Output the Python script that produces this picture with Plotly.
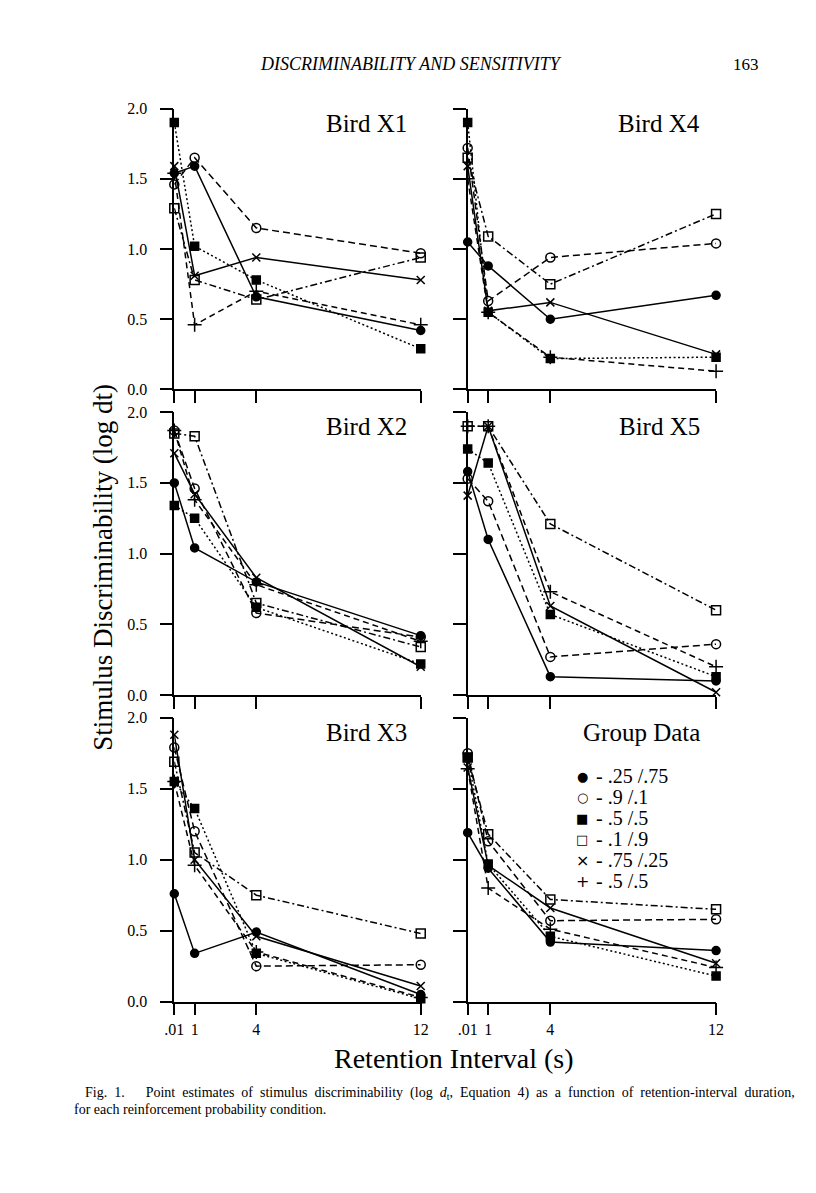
import plotly.graph_objects as go

W, H = 816, 1193

# ---------------- data ----------------
x_vals = [0.01, 1, 4, 12]
x_tick_labels = [".01", "1", "4", "12"]
y_ticks = [0.0, 0.5, 1.0, 1.5, 2.0]
y_tick_labels = ["0.0", "0.5", "1.0", "1.5", "2.0"]

conditions = [".25 /.75", ".9 /.1", ".5 /.5", ".1 /.9", ".75 /.25", ".5 /.5"]
legend_glyphs = ["●", "○", "■", "□", "×", "+"]

# series order: .25/.75 (filled circle), .9/.1 (open circle), .5/.5 (filled square),
#               .1/.9 (open square), .75/.25 (x), .5/.5 (+)
bird_x1 = [[1.54, 1.59, 0.66, 0.42], [1.46, 1.65, 1.15, 0.97], [1.90, 1.02, 0.78, 0.29],
           [1.29, 0.78, 0.64, 0.94], [1.59, 0.81, 0.94, 0.78], [1.54, 0.46, 0.70, 0.46]]
bird_x4 = [[1.05, 0.88, 0.50, 0.67], [1.72, 0.63, 0.94, 1.04], [1.90, 0.55, 0.22, 0.23],
           [1.65, 1.09, 0.75, 1.25], [1.59, 0.56, 0.62, 0.25], [1.50, 0.55, 0.23, 0.13]]
bird_x2 = [[1.50, 1.04, 0.80, 0.42], [1.87, 1.46, 0.58, 0.41], [1.34, 1.25, 0.62, 0.22],
           [1.85, 1.83, 0.65, 0.34], [1.71, 1.42, 0.83, 0.20], [1.87, 1.38, 0.78, 0.38]]
bird_x5 = [[1.58, 1.10, 0.13, 0.10], [1.53, 1.37, 0.27, 0.36], [1.74, 1.64, 0.57, 0.13],
           [1.90, 1.90, 1.21, 0.60], [1.41, 1.90, 0.63, 0.02], [1.90, 1.90, 0.73, 0.20]]
bird_x3 = [[0.76, 0.34, 0.49, 0.05], [1.79, 1.20, 0.25, 0.26], [1.55, 1.36, 0.34, 0.02],
           [1.69, 1.05, 0.75, 0.48], [1.88, 1.00, 0.46, 0.11], [1.55, 0.96, 0.35, 0.03]]
group_data = [[1.19, 0.94, 0.42, 0.36], [1.75, 1.13, 0.57, 0.58], [1.72, 0.97, 0.46, 0.18],
              [1.72, 1.18, 0.72, 0.65], [1.65, 0.96, 0.66, 0.27], [1.64, 0.80, 0.51, 0.24]]

panel_titles = ["Bird X1", "Bird X4", "Bird X2", "Bird X5", "Bird X3", "Group Data"]
panel_data = [bird_x1, bird_x4, bird_x2, bird_x5, bird_x3, group_data]

caption_line1 = ("Fig. 1.   Point estimates of stimulus discriminability (log <i>d</i><sub>t</sub>, "
                 "Equation 4) as a function of retention-interval duration,")
caption_line2 = "for each reinforcement probability condition."

# ---------------- styles ----------------
FONT = "Liberation Serif, Times New Roman, serif"
marker_symbols = ["circle", "circle-open", "square", "square-open", "x-thin-open", "cross-thin-open"]
marker_sizes = [8, 9, 8, 9, 8, 10]
dashes = ["solid", "7px,4px", "2px,2.5px", "7px,3px,2px,3px", "solid", "6px,4px"]

# panel pixel boxes (left, right) and (top, bottom)
col_px = [(168, 420), (468, 722)]
row_px = [(102, 387), (410, 697), (720, 1008)]


def px2x(p):
    return p / W


def px2y(p):
    return 1 - p / H


def justify(text):
    # widen word gaps to mimic the justified typesetting of the printed caption
    return text.replace(" ", " \u2005")


fig = go.Figure()
annotations = []

for i, (title, data) in enumerate(zip(panel_titles, panel_data)):
    r, c = divmod(i, 2)
    n = i + 1
    xa = "x" if n == 1 else f"x{n}"
    ya = "y" if n == 1 else f"y{n}"
    for k in range(6):
        fig.add_trace(go.Scatter(
            x=x_vals, y=data[k], xaxis=xa, yaxis=ya,
            mode="lines+markers", showlegend=False, cliponaxis=False,
            line=dict(color="black", width=1.5, dash=dashes[k]),
            marker=dict(symbol=marker_symbols[k], size=marker_sizes[k], color="black",
                        line=dict(color="black", width=1.5)),
        ))
    x0, x1 = col_px[c]
    y0, y1 = row_px[r]
    xkey = "xaxis" if n == 1 else f"xaxis{n}"
    ykey = "yaxis" if n == 1 else f"yaxis{n}"
    fig.update_layout(**{
        xkey: dict(domain=[px2x(x0), px2x(x1)], anchor=ya, range=[0.01, 12],
                   tickvals=x_vals, ticktext=x_tick_labels, showticklabels=(r == 2),
                   ticks="outside", ticklen=12, tickwidth=1.5, tickcolor="black",
                   showline=True, linecolor="black", linewidth=1.5, showgrid=False,
                   zeroline=False, tickfont=dict(family=FONT, size=16, color="black")),
        ykey: dict(domain=[px2y(y1), px2y(y0)], anchor=xa, range=[0, 2],
                   tickvals=y_ticks, ticktext=y_tick_labels, showticklabels=(c == 0),
                   ticks="outside", ticklen=13, tickwidth=1.5, tickcolor="black",
                   showline=True, linecolor="black", linewidth=1.5, showgrid=False,
                   zeroline=False, ticklabelstandoff=9,
                   tickfont=dict(family=FONT, size=16, color="black")),
    })
    annotations.append(dict(
        text=title, x=px2x(408 if c == 0 else 708), y=px2y(y0 + 15),
        xref="paper", yref="paper", xanchor="right", yanchor="middle",
        showarrow=False, font=dict(family=FONT, size=25, color="black")))

# legend in the Group Data panel
for k in range(6):
    yy = px2y(779 + 21.3 * k)
    annotations.append(dict(text=legend_glyphs[k], x=px2x(585), y=yy, xref="paper", yref="paper",
                            xanchor="center", yanchor="middle", showarrow=False, borderpad=0,
                            height=20,
                            font=dict(family="DejaVu Sans", size=13 if k not in (4, 5) else 16,
                                      color="black")))
    annotations.append(dict(text="- " + conditions[k], x=px2x(598), y=yy, xref="paper", yref="paper",
                            xanchor="left", yanchor="middle", showarrow=False, borderpad=0,
                            height=20,
                            font=dict(family=FONT, size=20, color="black")))

# page texts
annotations += [
    dict(text="<i>DISCRIMINABILITY AND SENSITIVITY</i>", x=px2x(410), y=px2y(57),
         xref="paper", yref="paper", xanchor="center", yanchor="middle", showarrow=False,
         font=dict(family=FONT, size=18, color="black")),
    dict(text="163", x=px2x(753), y=px2y(57), xref="paper", yref="paper",
         xanchor="center", yanchor="middle", showarrow=False,
         font=dict(family=FONT, size=17, color="black")),
    dict(text="Stimulus Discriminability (log dt)", x=px2x(95), y=px2y(567), textangle=-90,
         xref="paper", yref="paper", xanchor="center", yanchor="middle", showarrow=False,
         font=dict(family=FONT, size=27, color="black")),
    dict(text="Retention Interval (s)", x=px2x(454), y=px2y(1066), xref="paper", yref="paper",
         xanchor="center", yanchor="middle", showarrow=False,
         font=dict(family=FONT, size=28, color="black")),
    dict(text=justify(caption_line1),
         x=px2x(75), y=px2y(1101), xref="paper", yref="paper", xanchor="left",
         yanchor="middle", showarrow=False, font=dict(family=FONT, size=14, color="black")),
    dict(text=caption_line2,
         x=px2x(63), y=px2y(1117), xref="paper", yref="paper", xanchor="left",
         yanchor="middle", showarrow=False, font=dict(family=FONT, size=14, color="black")),
]

fig.update_layout(width=W, height=H, margin=dict(l=0, r=0, t=0, b=0),
                  paper_bgcolor="white", plot_bgcolor="white",
                  annotations=annotations, showlegend=False)

fig.write_html("out.html", config={"displayModeBar": False},
               post_script="document.body.style.margin='0px';document.body.style.overflow='hidden';")
